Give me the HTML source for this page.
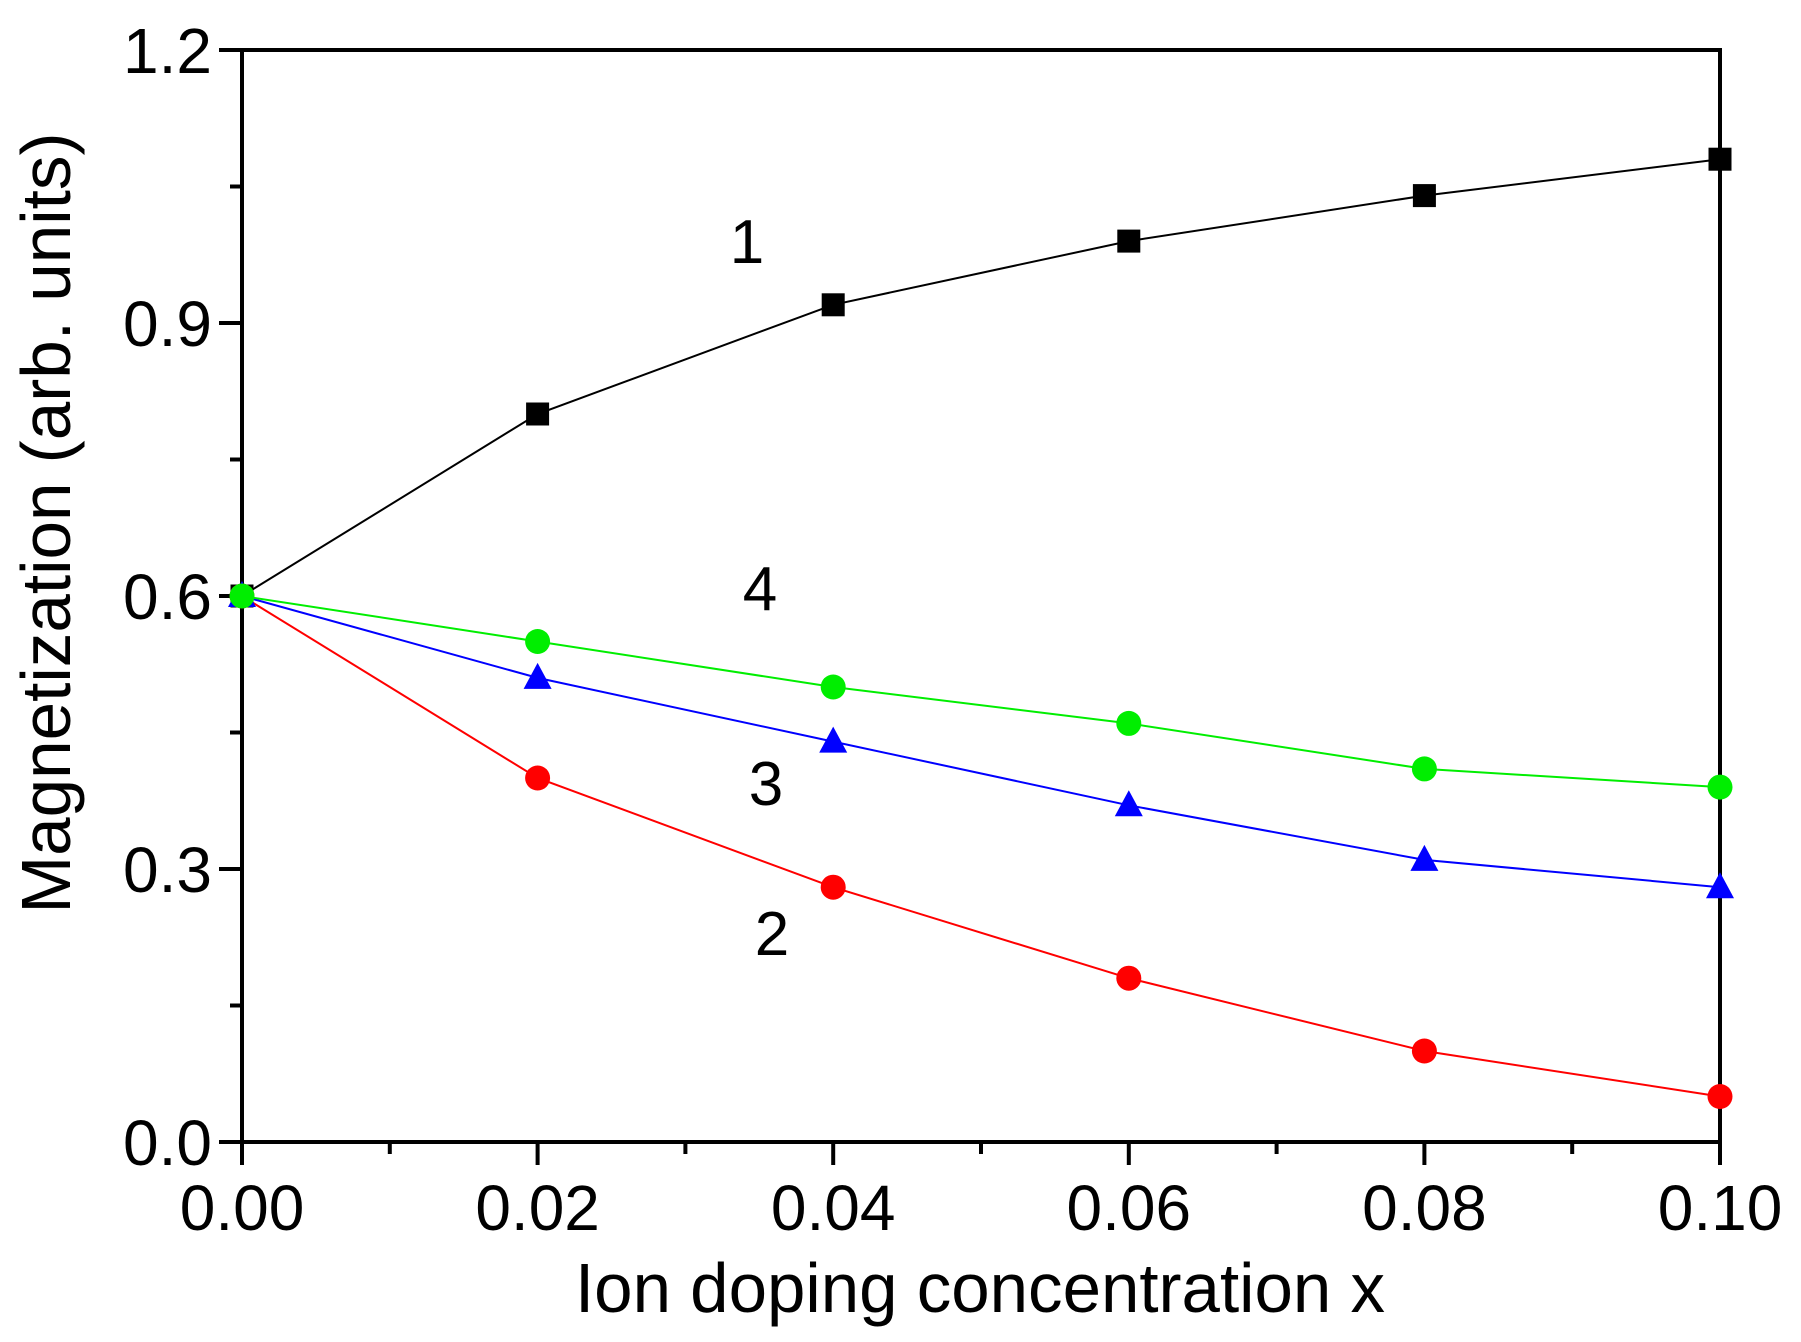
<!DOCTYPE html>
<html><head><meta charset="utf-8"><style>html,body{margin:0;padding:0;background:#fff}svg{display:block}text{font-family:"Liberation Sans",sans-serif}</style></head>
<body>
<svg id="chart" width="1801" height="1342" viewBox="0 0 1801 1342" xmlns="http://www.w3.org/2000/svg">
<g id="axes"></g>
<g id="series"></g>
<text x="980" y="1312" font-size="70" text-anchor="middle" textLength="810" lengthAdjust="spacingAndGlyphs">Ion doping concentration x</text>
<text transform="translate(70,523) rotate(-90)" font-size="70" text-anchor="middle" textLength="781" lengthAdjust="spacingAndGlyphs">Magnetization (arb. units)</text>
</svg>
<script>
const xValues=[0,0.02,0.04,0.06,0.08,0.10];
const s1=[0.6,0.8,0.92,0.99,1.04,1.08];
const s2=[0.6,0.4,0.28,0.18,0.10,0.05];
const s3=[0.6,0.51,0.44,0.37,0.31,0.28];
const s4=[0.6,0.55,0.50,0.46,0.41,0.39];
const xTicks=["0.00","0.02","0.04","0.06","0.08","0.10"];
const yTicks=["0.0","0.3","0.6","0.9","1.2"];
const seriesLabels=["1","2","3","4"];
const NS="http://www.w3.org/2000/svg";
const X0=242,X1=1720,Y0=1142,Y1=50;
const sx=v=>X0+(v-0)/0.10*(X1-X0);
const sy=v=>Y0-(v-0)/1.2*(Y0-Y1);
function mk(tag,attrs,parent){const e=document.createElementNS(NS,tag);for(const k in attrs)e.setAttribute(k,attrs[k]);parent.appendChild(e);return e;}
const ax=document.getElementById('axes');
let fr=mk('rect',{x:X0,y:Y1,width:X1-X0,height:Y0-Y1,fill:'none',stroke:'#000','stroke-width':4},ax);


xTicks.forEach((t,i)=>{const v=parseFloat(t);const x=sx(v);
let l=mk('line',{x1:x,x2:x,y1:Y0,y2:Y0+23,stroke:'#000','stroke-width':4},ax);


let tx=mk('text',{x:x,y:Y0+88,'font-size':64,'text-anchor':'middle'},ax);tx.textContent=t;


if(i<xTicks.length-1){const xm=sx(v+0.01);let m=mk('line',{x1:xm,x2:xm,y1:Y0,y2:Y0+12,stroke:'#000','stroke-width':4},ax);

}
});
yTicks.forEach((t,i)=>{const v=parseFloat(t);const y=sy(v);
let l=mk('line',{x1:X0-23,x2:X0,y1:y,y2:y,stroke:'#000','stroke-width':4},ax);


let tx=mk('text',{x:X0-30,y:y+23,'font-size':64,'text-anchor':'end'},ax);tx.textContent=t;


if(i<yTicks.length-1){const ym=sy(v+0.15);let m=mk('line',{x1:X0-12,x2:X0,y1:ym,y2:ym,stroke:'#000','stroke-width':4},ax);

}
});
const sg=document.getElementById('series');
const defs=[{d:s1,c:'#000',m:'square',n:'series-1'},{d:s2,c:'#ff0000',m:'circle',n:'series-2'},{d:s3,c:'#0000ff',m:'triangle',n:'series-3'},{d:s4,c:'#00ee00',m:'circle',n:'series-4'}];
defs.forEach(s=>{const g=mk('g',{},sg);


const pts=s.d.map((v,i)=>sx(xValues[i])+','+sy(v)).join(' ');
let pl=mk('polyline',{points:pts,fill:'none',stroke:s.c,'stroke-width':2},g);


s.d.forEach((v,i)=>{const x=sx(xValues[i]),y=sy(v);let e;
if(s.m==='square')e=mk('rect',{x:x-11.5,y:y-11.5,width:23,height:23,fill:s.c},g);
else if(s.m==='circle')e=mk('circle',{cx:x,cy:y,r:12.5,fill:s.c},g);
else e=mk('polygon',{points:`${x},${y-15} ${x-14},${y+11} ${x+14},${y+11}`,fill:s.c},g);

});
});
const lblPos=[[747,263],[772,955],[766,805],[760,610]];
seriesLabels.forEach((t,i)=>{let e=mk('text',{x:lblPos[i][0],y:lblPos[i][1],'font-size':62,'text-anchor':'middle'},sg);e.textContent=t;

});
</script>
</body></html>
